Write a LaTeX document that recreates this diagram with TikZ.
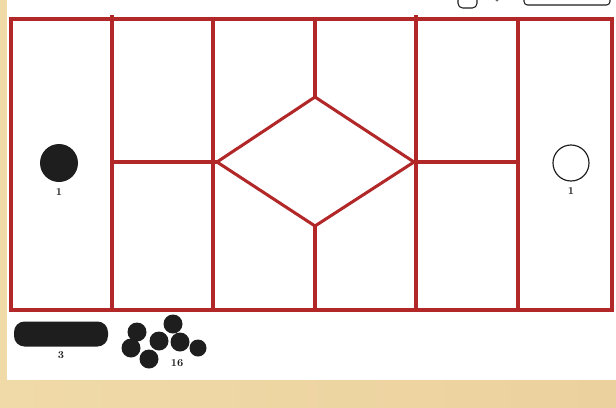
\documentclass[tikz,border=0pt]{standalone}
\usepackage{tikz}
\usetikzlibrary{positioning}
\definecolor{boardred}{RGB}{178,40,40}
\definecolor{sandbg}{RGB}{240,218,168}
\definecolor{piecegrey}{RGB}{30,30,30}

\begin{document}
\begin{tikzpicture}[
    x=0.03cm, y=-0.03cm,
    wall/.style={draw=boardred, line width=2.6pt},
    disc/.style={circle, fill=piecegrey, inner sep=0pt},
    ring/.style={circle, draw=piecegrey, line width=1pt, fill=white, inner sep=0pt},
    count/.style={font=\bfseries\small, text=piecegrey, inner sep=1pt}
]
\useasboundingbox (0,0) rectangle (616,407);
\fill[left color=sandbg, right color=sandbg!90!brown] (0,0) rectangle (616,407);
\fill[white] (7,0) rectangle (616,380);

% partly hidden pieces at the top
\begin{scope}
\clip (7,0) rectangle (616,380);
\draw[piecegrey, line width=0.9pt, rounded corners=4pt] (458,-10) rectangle (477,8);
\fill[piecegrey!70] (497,0) circle (1.6);
\draw[piecegrey, line width=0.9pt, rounded corners=3pt] (524,-10) rectangle (610,5);
\end{scope}

% board
\draw[wall] (11,19) rectangle (612,310);
\draw[wall] (112,15) -- (112,310);
\draw[wall] (213,19) -- (213,310);
\draw[wall] (416,15) -- (416,310);
\draw[wall] (518,19) -- (518,310);

% middle diamond
\coordinate (dl) at (217,162);
\coordinate (dt) at (315,97);
\coordinate (dr) at (414,162);
\coordinate (db) at (315,226);
\draw[wall, line join=miter] (dl) -- (dt) -- (dr) -- (db) -- cycle;
\draw[wall] (315,19) -- (dt);
\draw[wall] (db) -- (315,310);
\draw[wall] (112,162) -- (dl);
\draw[wall] (dr) -- (518,162);

% pieces on the board
\node[disc, minimum size=38*0.03cm] (blackone) at (59,163) {};
\node[count, below=1.5mm of blackone] (blackonelbl) {1};
\node[ring, minimum size=36*0.03cm] (whiteone) at (571,163) {};
\node[count, below=1.5mm of whiteone] (whiteonelbl) {1};

% pieces below the board
\node[rectangle, rounded corners=9pt, fill=piecegrey, minimum width=94*0.03cm,
      minimum height=25*0.03cm, inner sep=0pt] (bar) at (61,334) {};
\node[count, below=1mm of bar] (barlbl) {3};

\node[disc, minimum size=19*0.03cm] (c1) at (137,332) {};
\node[disc, minimum size=19*0.03cm] (c2) at (131,348) {};
\node[disc, minimum size=19*0.03cm] (c3) at (149,359) {};
\node[disc, minimum size=19*0.03cm] (c4) at (159,341) {};
\node[disc, minimum size=19*0.03cm] (c5) at (173,324) {};
\node[disc, minimum size=19*0.03cm] (c6) at (180,342) {};
\node[disc, minimum size=17*0.03cm] (c7) at (198,348) {};
\node[count] (clusterlbl) at (177,363) {16};
\end{tikzpicture}
\end{document}
